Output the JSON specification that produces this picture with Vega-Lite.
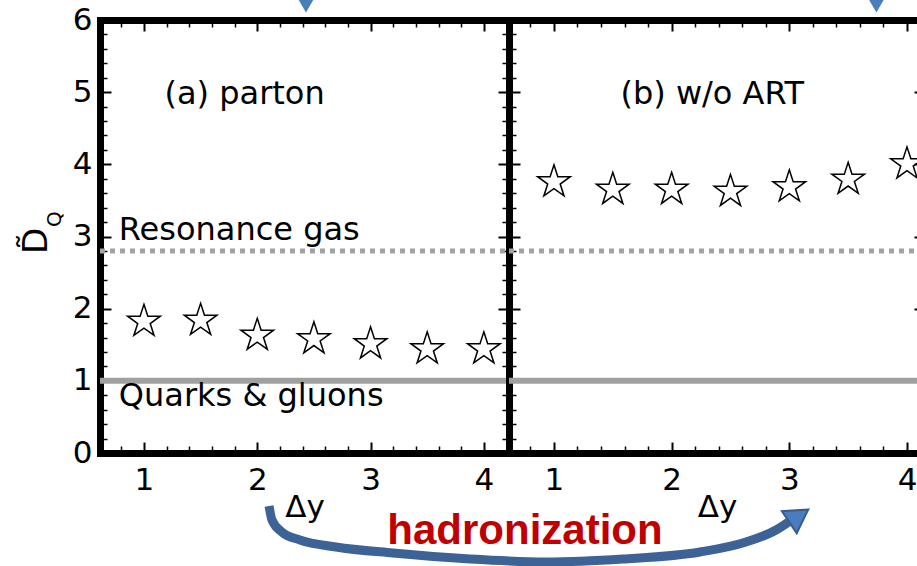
{
  "$schema": "https://vega.github.io/schema/vega-lite/v6.json",
  "background": "white",
  "padding": {"left": 20, "top": 0, "right": 0, "bottom": 0},
  "spacing": 0,
  "bounds": "flush",
  "datasets": {
    "leftStars": [
      {"x": 1, "y": 1.822}, {"x": 1.5, "y": 1.836}, {"x": 2, "y": 1.628}, {"x": 2.5, "y": 1.58},
      {"x": 3, "y": 1.51}, {"x": 3.5, "y": 1.441}, {"x": 4, "y": 1.441}
    ],
    "rightStars": [
      {"x": 1, "y": 3.755}, {"x": 1.5, "y": 3.651}, {"x": 2, "y": 3.651}, {"x": 2.5, "y": 3.623},
      {"x": 3, "y": 3.686}, {"x": 3.5, "y": 3.79}, {"x": 4, "y": 4.004}
    ],
    "arrow": [
      {"i": 1, "x": 2.104, "y": -0.734}, {"i": 2, "x": 2.13, "y": -0.928}, {"i": 3, "x": 2.218, "y": -1.095},
      {"i": 4, "x": 2.377, "y": -1.205}, {"i": 5, "x": 2.695, "y": -1.302}, {"i": 6, "x": 3.198, "y": -1.386},
      {"i": 7, "x": 3.878, "y": -1.469}, {"i": 8, "x": 4.548, "y": -1.51}, {"i": 9, "x": 5.228, "y": -1.469},
      {"i": 10, "x": 5.908, "y": -1.372}, {"i": 11, "x": 6.314, "y": -1.233}, {"i": 12, "x": 6.579, "y": -1.067},
      {"i": 13, "x": 6.69, "y": -0.955}
    ]
  },
  "hconcat": [
    {
      "width": 409,
      "height": 433,
      "resolve": {"axis": {"x": "independent", "y": "independent"}},
      "layer": [
        {
          "data": {"name": "leftStars"},
          "mark": {"type": "point", "shape": "M0,-1L0.2245,-0.309L0.9511,-0.309L0.3633,0.118L0.5878,0.809L0,0.382L-0.5878,0.809L-0.3633,0.118L-0.9511,-0.309L-0.2245,-0.309Z", "size": 1180, "filled": false, "color": "black", "strokeWidth": 1.5, "opacity": 1, "clip": true},
          "encoding": {
            "x": {"field": "x", "type": "quantitative", "scale": {"domain": [0.612, 4.222], "nice": false, "zero": false},
                  "axis": {"orient": "bottom", "values": [1, 2, 3, 4], "tickSize": -11, "tickWidth": 2, "labelPadding": 23.5, "title": "Δy", "titleY": 63, "titleBaseline": "alphabetic"}},
            "y": {"field": "y", "type": "quantitative", "scale": {"domain": [0, 6], "nice": false, "zero": false},
                  "axis": {"orient": "left", "values": [0, 1, 2, 3, 4, 5, 6], "tickSize": -11, "tickWidth": 2, "labelPadding": 19, "title": null}}
          }
        },
        {
          "data": {"values": [{"x0": 0.612, "x1": 4.222, "y": 1}]},
          "mark": {"type": "rule", "color": "#a0a0a0", "strokeWidth": 6},
          "encoding": {
            "x": {"field": "x0", "type": "quantitative", "axis": {"orient": "bottom", "values": [0.8, 1.2, 1.4, 1.6, 1.8, 2.2, 2.4, 2.6, 2.8, 3.2, 3.4, 3.6, 3.8, 4.2], "tickSize": -7, "tickWidth": 1.5, "labels": false, "domain": false, "title": null}},
            "x2": {"field": "x1"},
            "y": {"field": "y", "type": "quantitative", "axis": {"orient": "left", "values": [0.2, 0.4, 0.6, 0.8, 1.2, 1.4, 1.6, 1.8, 2.2, 2.4, 2.6, 2.8, 3.2, 3.4, 3.6, 3.8, 4.2, 4.4, 4.6, 4.8, 5.2, 5.4, 5.6, 5.8], "tickSize": -7, "tickWidth": 1.5, "labels": false, "domain": false, "title": null}}
          }
        },
        {
          "data": {"values": [{"x0": 0.612, "x1": 4.222, "y": 2.8}]},
          "mark": {"type": "rule", "color": "#a3a3a3", "strokeWidth": 5, "strokeDash": [5, 5]},
          "encoding": {
            "x": {"field": "x0", "type": "quantitative", "axis": {"orient": "top", "values": [0.8, 1.2, 1.4, 1.6, 1.8, 2.2, 2.4, 2.6, 2.8, 3.2, 3.4, 3.6, 3.8, 4.2], "tickSize": -7, "tickWidth": 1.5, "labels": false, "domain": false, "title": null}},
            "x2": {"field": "x1"},
            "y": {"field": "y", "type": "quantitative", "axis": {"orient": "right", "values": [0, 1, 2, 3, 4, 5, 6], "tickSize": -11, "tickWidth": 2, "labels": false, "title": null}}
          }
        },
        {
          "data": {"values": [
            {"x": 1.181, "y": 4.836, "t": "(a) parton"},
            {"x": 0.778, "y": 2.951, "t": "Resonance gas"},
            {"x": 0.778, "y": 0.651, "t": "Quarks & gluons"}
          ]},
          "mark": {"type": "text", "align": "left", "baseline": "alphabetic", "font": "DejaVu Sans", "fontSize": 32, "color": "black"},
          "encoding": {
            "x": {"field": "x", "type": "quantitative", "axis": {"orient": "top", "values": [1, 2, 3, 4], "tickSize": -11, "tickWidth": 2, "labels": false, "title": null}},
            "y": {"field": "y", "type": "quantitative", "axis": {"orient": "right", "values": [0.2, 0.4, 0.6, 0.8, 1.2, 1.4, 1.6, 1.8, 2.2, 2.4, 2.6, 2.8, 3.2, 3.4, 3.6, 3.8, 4.2, 4.4, 4.6, 4.8, 5.2, 5.4, 5.6, 5.8], "tickSize": -7, "tickWidth": 1.5, "labels": false, "domain": false, "title": null}},
            "text": {"field": "t"}
          }
        },
        {
          "data": {"values": [{"x": 0.06, "y": 2.94, "t": "D̃"}]},
          "mark": {"type": "text", "align": "center", "baseline": "middle", "angle": 270, "font": "DejaVu Sans", "fontSize": 34, "color": "black"},
          "encoding": {
            "x": {"field": "x", "type": "quantitative", "axis": null},
            "y": {"field": "y", "type": "quantitative", "axis": null},
            "text": {"field": "t"}
          }
        },
        {
          "data": {"values": [{"x": 0.215, "y": 3.24, "t": "Q"}]},
          "mark": {"type": "text", "align": "center", "baseline": "middle", "angle": 270, "font": "DejaVu Sans", "fontSize": 20, "color": "black"},
          "encoding": {
            "x": {"field": "x", "type": "quantitative", "axis": null},
            "y": {"field": "y", "type": "quantitative", "axis": null},
            "text": {"field": "t"}
          }
        },
        {
          "data": {"name": "arrow"},
          "mark": {"type": "line", "color": "#3d6396", "strokeWidth": 9, "interpolate": "monotone", "strokeCap": "butt"},
          "encoding": {
            "x": {"field": "x", "type": "quantitative", "axis": null},
            "y": {"field": "y", "type": "quantitative", "axis": null},
            "order": {"field": "i"}
          }
        },
        {
          "data": {"values": [{"x": 6.78, "y": -0.87}]},
          "mark": {"type": "point", "shape": "triangle-right", "size": 700, "angle": 326, "filled": true, "fill": "#4a7cc0", "stroke": "#385d8a", "strokeWidth": 2, "opacity": 1},
          "encoding": {
            "x": {"field": "x", "type": "quantitative", "axis": null},
            "y": {"field": "y", "type": "quantitative", "axis": null}
          }
        },
        {
          "data": {"values": [{"x": 4.363, "y": -1.259, "t": "hadronization"}]},
          "mark": {"type": "text", "align": "center", "baseline": "alphabetic", "font": "Liberation Sans", "fontWeight": "bold", "fontSize": 42, "color": "#c00000"},
          "encoding": {
            "x": {"field": "x", "type": "quantitative", "axis": null},
            "y": {"field": "y", "type": "quantitative", "axis": null},
            "text": {"field": "t"}
          }
        },
        {
          "data": {"values": [{"x": 2.43, "y": 6.19}]},
          "mark": {"type": "point", "shape": "triangle-down", "size": 210, "filled": true, "color": "#4a7ebb", "opacity": 1},
          "encoding": {
            "x": {"field": "x", "type": "quantitative", "axis": null},
            "y": {"field": "y", "type": "quantitative", "axis": null}
          }
        }
      ]
    },
    {
      "width": 408,
      "height": 433,
      "resolve": {"axis": {"x": "independent", "y": "independent"}},
      "layer": [
        {
          "data": {"name": "rightStars"},
          "mark": {"type": "point", "shape": "M0,-1L0.2245,-0.309L0.9511,-0.309L0.3633,0.118L0.5878,0.809L0,0.382L-0.5878,0.809L-0.3633,0.118L-0.9511,-0.309L-0.2245,-0.309Z", "size": 1180, "filled": false, "color": "black", "strokeWidth": 1.5, "opacity": 1, "clip": true},
          "encoding": {
            "x": {"field": "x", "type": "quantitative", "scale": {"domain": [0.618, 4.085], "nice": false, "zero": false},
                  "axis": {"orient": "bottom", "values": [1, 2, 3, 4], "tickSize": -11, "tickWidth": 2, "labelPadding": 23.5, "domainCap": "butt", "title": "Δy", "titleX": 208, "titleY": 63, "titleBaseline": "alphabetic"}},
            "y": {"field": "y", "type": "quantitative", "scale": {"domain": [0, 6], "nice": false, "zero": false},
                  "axis": {"orient": "left", "values": [0, 1, 2, 3, 4, 5, 6], "tickSize": -11, "tickWidth": 2, "labels": false, "title": null}}
          }
        },
        {
          "data": {"values": [{"x0": 0.618, "x1": 4.085, "y": 1}]},
          "mark": {"type": "rule", "color": "#a0a0a0", "strokeWidth": 6},
          "encoding": {
            "x": {"field": "x0", "type": "quantitative", "axis": {"orient": "bottom", "values": [0.8, 1.2, 1.4, 1.6, 1.8, 2.2, 2.4, 2.6, 2.8, 3.2, 3.4, 3.6, 3.8], "tickSize": -7, "tickWidth": 1.5, "labels": false, "domain": false, "title": null}},
            "x2": {"field": "x1"},
            "y": {"field": "y", "type": "quantitative", "axis": {"orient": "left", "values": [0.2, 0.4, 0.6, 0.8, 1.2, 1.4, 1.6, 1.8, 2.2, 2.4, 2.6, 2.8, 3.2, 3.4, 3.6, 3.8, 4.2, 4.4, 4.6, 4.8, 5.2, 5.4, 5.6, 5.8], "tickSize": -7, "tickWidth": 1.5, "labels": false, "domain": false, "title": null}}
          }
        },
        {
          "data": {"values": [{"x0": 0.618, "x1": 4.085, "y": 2.8}]},
          "mark": {"type": "rule", "color": "#a3a3a3", "strokeWidth": 5, "strokeDash": [5, 5]},
          "encoding": {
            "x": {"field": "x0", "type": "quantitative", "axis": {"orient": "top", "values": [0.8, 1.2, 1.4, 1.6, 1.8, 2.2, 2.4, 2.6, 2.8, 3.2, 3.4, 3.6, 3.8], "tickSize": -7, "tickWidth": 1.5, "labels": false, "domain": false, "title": null}},
            "x2": {"field": "x1"},
            "y": {"field": "y", "type": "quantitative", "axis": {"orient": "right", "values": [1, 2, 3, 4, 5], "tickSize": -3, "tickWidth": 2, "labels": false, "domain": false, "title": null}}
          }
        },
        {
          "data": {"values": [{"x": 1.565, "y": 4.836, "t": "(b) w/o ART"}]},
          "mark": {"type": "text", "align": "left", "baseline": "alphabetic", "font": "DejaVu Sans", "fontSize": 32, "color": "black"},
          "encoding": {
            "x": {"field": "x", "type": "quantitative", "axis": {"orient": "top", "values": [1, 2, 3, 4], "tickSize": -11, "tickWidth": 2, "labels": false, "domainCap": "butt", "title": null}},
            "y": {"field": "y", "type": "quantitative", "axis": null},
            "text": {"field": "t"}
          }
        },
        {
          "data": {"values": [{"x": 3.74, "y": 6.19}]},
          "mark": {"type": "point", "shape": "triangle-down", "size": 210, "filled": true, "color": "#4a7ebb", "opacity": 1},
          "encoding": {
            "x": {"field": "x", "type": "quantitative", "axis": null},
            "y": {"field": "y", "type": "quantitative", "axis": null}
          }
        }
      ]
    }
  ],
  "config": {
    "view": {"stroke": null},
    "concat": {"spacing": 0},
    "axis": {
      "grid": false,
      "domainColor": "black",
      "domainWidth": 7,
      "domainCap": "square",
      "tickColor": "black",
      "labelFont": "DejaVu Sans",
      "labelFontSize": 31,
      "labelColor": "black",
      "labelFlush": false,
      "labelOverlap": false,
      "titleFont": "DejaVu Sans",
      "titleFontSize": 31,
      "titleFontWeight": "normal",
      "titleColor": "black"
    }
  }
}
